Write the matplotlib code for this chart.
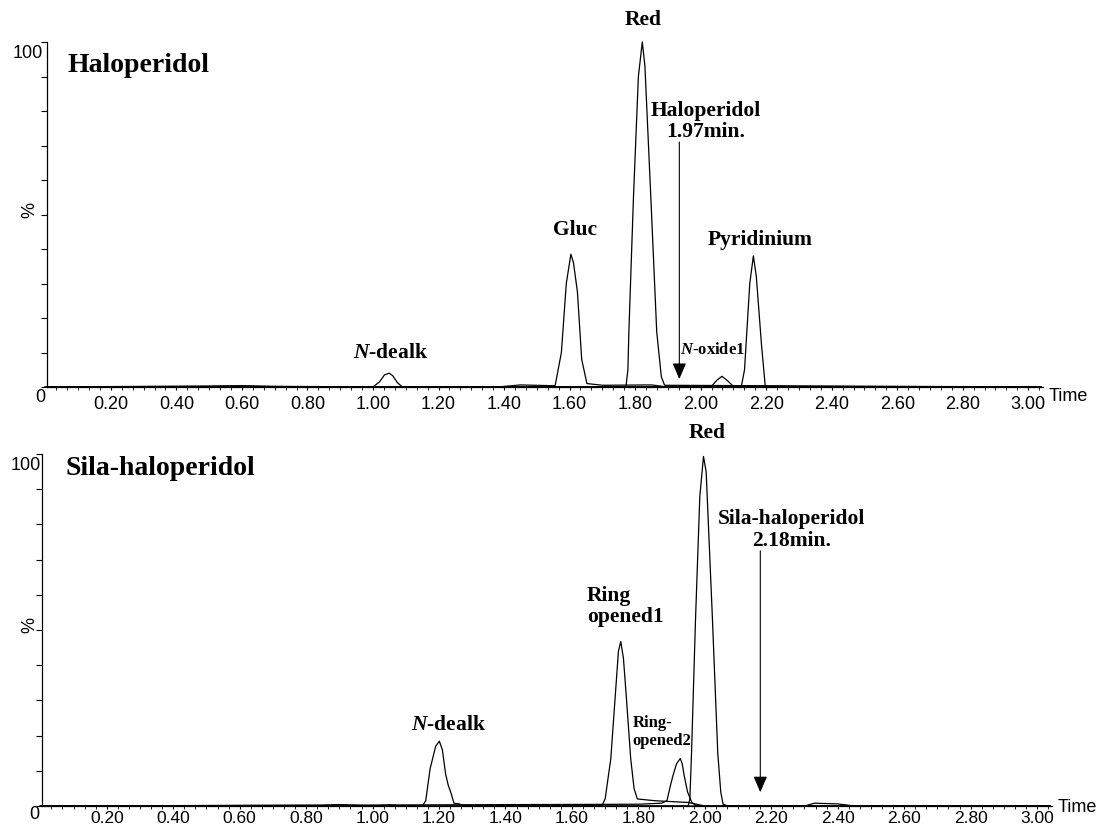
import matplotlib
matplotlib.use("Agg")
import matplotlib.pyplot as plt
from matplotlib.ticker import AutoMinorLocator

plt.rcParams['mathtext.fontset'] = 'custom'
plt.rcParams['mathtext.it'] = 'Liberation Serif:bold:italic'
plt.rcParams['mathtext.rm'] = 'Liberation Serif:bold'

# ---- Haloperidol traces (time in min, intensity in %) ----
halo_ndealk_t = [0.00, 0.50, 0.60, 0.70, 1.00, 1.02, 1.035, 1.049, 1.06, 1.075, 1.09, 3.04]
halo_ndealk_y = [0.0, 0.3, 0.4, 0.2, 0.0, 1.5, 3.5, 4.0, 3.3, 1.2, 0.0, 0.0]
halo_gluc_t = [0.00, 1.38, 1.45, 1.54, 1.556, 1.575, 1.59, 1.604, 1.612, 1.624, 1.637, 1.653, 1.70, 1.85, 1.90, 3.04]
halo_gluc_y = [0.0, 0.0, 0.6, 0.4, 0.4, 10.0, 30.0, 38.5, 36.0, 27.5, 8.0, 1.0, 0.5, 0.6, 0.0, 0.0]
halo_red_t = [0.00, 1.772, 1.778, 1.781, 1.795, 1.810, 1.822, 1.830, 1.848, 1.866, 1.880, 1.890, 3.04]
halo_red_y = [0.0, 0.0, 5.0, 16.0, 55.0, 90.0, 100.0, 93.0, 55.0, 16.0, 3.0, 0.5, 0.0]
halo_noxide_t = [0.00, 1.98, 2.00, 2.02, 2.034, 2.05, 2.065, 2.08, 2.10, 3.04]
halo_noxide_y = [0.0, 0.0, 0.3, 0.2, 0.3, 2.0, 3.1, 2.0, 0.2, 0.0]
halo_pyr_t = [0.00, 2.124, 2.134, 2.141, 2.150, 2.161, 2.170, 2.178, 2.186, 2.197, 2.21, 3.04]
halo_pyr_y = [0.0, 0.0, 5.0, 16.0, 30.0, 38.0, 32.0, 22.0, 12.0, 0.5, 0.0, 0.0]

# ---- Sila-haloperidol traces ----
sila_ndealk_t = [0.00, 0.85, 0.90, 0.95, 1.00, 1.05, 1.10, 1.150, 1.160, 1.173, 1.190, 1.201, 1.210, 1.220, 1.228, 1.235, 1.245, 1.26, 1.28, 3.04]
sila_ndealk_y = [0.0, 0.2, 0.4, 0.2, 0.0, 0.3, 0.0, 0.0, 1.5, 10.5, 17.0, 18.4, 16.0, 9.0, 5.8, 4.0, 0.8, 0.6, 0.0, 0.0]
sila_ring1_t = [0.00, 1.690, 1.700, 1.717, 1.731, 1.740, 1.747, 1.755, 1.763, 1.777, 1.787, 1.797, 1.85, 1.95, 2.00, 3.04]
sila_ring1_y = [0.0, 0.0, 2.0, 13.4, 32.0, 44.0, 46.7, 42.0, 32.0, 13.4, 5.0, 2.0, 1.5, 1.0, 0.0, 0.0]
sila_ring2_t = [0.00, 1.80, 1.870, 1.886, 1.897, 1.904, 1.915, 1.926, 1.932, 1.938, 1.948, 1.961, 1.975, 3.04]
sila_ring2_y = [0.0, 0.5, 0.8, 1.5, 6.0, 8.6, 12.0, 13.5, 12.0, 8.6, 4.0, 1.0, 0.0, 0.0]
sila_red_t = [0.00, 1.950, 1.955, 1.960, 1.972, 1.985, 1.996, 2.004, 2.023, 2.039, 2.048, 2.055, 2.07, 2.30, 2.33, 2.40, 2.45, 3.04]
sila_red_y = [0.0, 0.0, 2.0, 15.0, 53.0, 88.0, 99.3, 95.0, 53.0, 15.0, 4.0, 0.5, 0.0, 0.0, 0.8, 0.6, 0.0, 0.0]

halo_traces = [(halo_ndealk_t, halo_ndealk_y), (halo_gluc_t, halo_gluc_y), (halo_red_t, halo_red_y),
               (halo_noxide_t, halo_noxide_y), (halo_pyr_t, halo_pyr_y)]
sila_traces = [(sila_ndealk_t, sila_ndealk_y), (sila_ring1_t, sila_ring1_y), (sila_ring2_t, sila_ring2_y),
               (sila_red_t, sila_red_y)]

# peak labels: text, time, %, size, alignment
halo_labels = [("$N$-dealk", 1.052, 10.1, 15.5, 'center'),
               ("Gluc", 1.617, 45.8, 15.5, 'center'),
               ("Red", 1.825, 106.7, 15.5, 'center'),
               ("Haloperidol\n1.97min.", 2.016, 77.3, 15.5, 'center'),
               ("$N$-oxide1", 2.035, 11.0, 12, 'center'),
               ("Pyridinium", 2.181, 42.9, 15.5, 'center')]
sila_labels = [("$N$-dealk", 1.228, 23.3, 15.5, 'center'),
               ("Ring\nopened1", 1.645, 57.0, 15.5, 'left'),
               ("Ring-\nopened2", 1.783, 21.3, 12, 'left'),
               ("Red", 2.006, 106.3, 15.5, 'center'),
               ("Sila-haloperidol\n2.18min.", 2.262, 78.7, 15.5, 'center')]

halo_arrow = (1.935, 71.0, 2.3)
sila_arrow = (2.167, 72.5, 3.9)

xticks = [0.20, 0.40, 0.60, 0.80, 1.00, 1.20, 1.40, 1.60, 1.80, 2.00, 2.20, 2.40, 2.60, 2.80, 3.00]

W, H = 1101, 828
fig = plt.figure(figsize=(W / 100, H / 100), dpi=100)

def px(x, y):
    return x / W, 1 - y / H

def setup(ax, traces, labels, arrow, title, tx, ty, lab_size, lab_pad):
    for t, y in traces:
        ax.plot(t, y, color='black', lw=0.9, clip_on=False)
    ax.set_xlim(0.005, 3.045)
    ax.set_ylim(0, 100)
    for s in ['top', 'right']:
        ax.spines[s].set_visible(False)
    for s in ['left', 'bottom']:
        ax.spines[s].set_linewidth(0.9)
    ax.set_yticks(range(0, 101, 10))
    ax.set_yticklabels([])
    ax.tick_params(axis='y', direction='out', length=4, width=0.8)
    ax.set_xticks(xticks)
    ax.set_xticklabels(["%.2f" % v for v in xticks], family='Liberation Sans', fontsize=lab_size)
    ax.xaxis.set_minor_locator(AutoMinorLocator(6))
    ax.tick_params(axis='x', which='major', direction='out', length=2.5, width=0.8, pad=lab_pad)
    ax.tick_params(axis='x', which='minor', direction='out', length=1.8, width=0.6)
    for txt, x, y, size, ha in labels:
        ax.text(x, y, txt, ha=ha, va='center', fontsize=size, family='Liberation Serif',
                fontweight='bold', linespacing=1.1, clip_on=False)
    xa, ytop, ytip = arrow
    ax.annotate('', xy=(xa, ytip), xytext=(xa, ytop),
                arrowprops=dict(arrowstyle='-|>,head_length=0.7,head_width=0.3', color='black',
                                lw=0.8, mutation_scale=14, shrinkA=0, shrinkB=0))
    ax.text(tx, ty, title, transform=ax.transAxes, ha='left', va='center', fontsize=20,
            family='Liberation Serif', fontweight='bold')

ax1 = fig.add_axes([47 / W, 1 - 388 / H, (1043 - 47) / W, 345 / H])
setup(ax1, halo_traces, halo_labels, halo_arrow, "Haloperidol", 0.021, 0.936, 13, 3.5)
ax2 = fig.add_axes([42 / W, 1 - 807 / H, (1052 - 42) / W, 352 / H])
setup(ax2, sila_traces, sila_labels, sila_arrow, "Sila-haloperidol", 0.023, 0.963, 12.5, 0.3)

tk = dict(family='Liberation Sans', fontsize=13)
fig.text(*px(43, 53), "100", ha='right', va='center', **tk)
fig.text(*px(40, 398), "0", ha='center', va='center', **tk)
fig.text(*px(30, 210), "%", ha='center', va='center', rotation=90, **tk)
fig.text(*px(1049, 397), "Time", ha='left', va='center', **tk)
fig.text(*px(41, 465), "100", ha='right', va='center', **tk)
fig.text(*px(34, 815), "0", ha='center', va='center', **tk)
fig.text(*px(30, 625), "%", ha='center', va='center', rotation=90, **tk)
fig.text(*px(1058, 808), "Time", ha='left', va='center', **tk)

fig.savefig("out.png", dpi=100)
